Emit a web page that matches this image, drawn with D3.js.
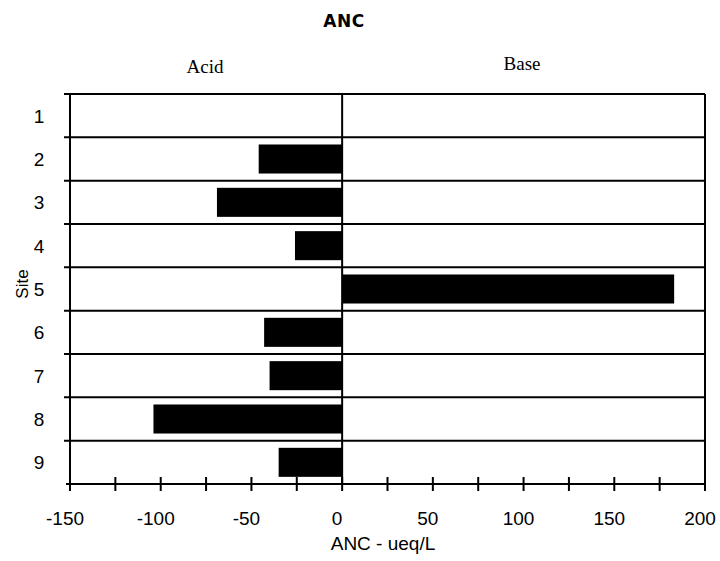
<!DOCTYPE html>
<html>
<head>
<meta charset="utf-8">
<script src="https://cdn.jsdelivr.net/npm/d3@7"></script>
<style>
body { margin: 0; background: #fff; }
text { font-family: "Liberation Sans", Arial, sans-serif; }
</style>
</head>
<body>
<div id="chart"></div>
<script>
// values
var sites = ["1", "2", "3", "4", "5", "6", "7", "8", "9"];
var anc = [0, -46, -69, -26, 183, -43, -40, -104, -35];
var xTicks = [-150, -100, -50, 0, 50, 100, 150, 200];
var minorTicks = [-150, -125, -100, -75, -50, -25, 0, 25, 50, 75, 100, 125, 150, 175, 200];

var W = 720, H = 561;
var margin = {top: 94, right: 15, bottom: 77, left: 70};
var width = W - margin.left - margin.right,
    height = H - margin.top - margin.bottom;

var svg = d3.select("#chart").append("svg")
    .attr("width", W)
    .attr("height", H);

var g = svg.append("g")
    .attr("transform", "translate(" + margin.left + "," + margin.top + ")");

var x = d3.scaleLinear().domain([-150, 200]).range([0, width]);
var y = d3.scaleBand().domain(sites).range([0, height]).paddingInner(0.33).paddingOuter(0.165);
var rows = d3.scaleBand().domain(sites).range([0, height]);

// row separators, poking a bit past the left border
g.selectAll(".row-line")
    .data(sites)
    .enter().append("line")
    .attr("class", "row-line")
    .attr("x1", -6)
    .attr("x2", width)
    .attr("y1", function(d) { return rows(d); })
    .attr("y2", function(d) { return rows(d); })
    .attr("stroke", "#000")
    .attr("stroke-width", 2);

// bars
g.selectAll(".bar")
    .data(anc)
    .enter().append("rect")
    .attr("class", "bar")
    .attr("x", function(d) { return x(Math.min(0, d)); })
    .attr("width", function(d) { return Math.abs(x(d) - x(0)); })
    .attr("y", function(d, i) { return y(sites[i]); })
    .attr("height", y.bandwidth())
    .attr("fill", "#000");

// left, right borders and zero line
[-150, 0, 200].forEach(function(v) {
    g.append("line")
        .attr("x1", x(v)).attr("x2", x(v))
        .attr("y1", 0).attr("y2", height)
        .attr("stroke", "#000")
        .attr("stroke-width", 2);
});

// x axis: line with ticks crossing it
var ax = g.append("g").attr("transform", "translate(0," + height + ")");
ax.append("line")
    .attr("x1", -4).attr("x2", width)
    .attr("stroke", "#000").attr("stroke-width", 2);
ax.selectAll(".tick-mark")
    .data(minorTicks)
    .enter().append("line")
    .attr("class", "tick-mark")
    .attr("x1", function(d) { return x(d); })
    .attr("x2", function(d) { return x(d); })
    .attr("y1", -7).attr("y2", 7)
    .attr("stroke", "#000").attr("stroke-width", 2);
ax.selectAll(".tick-label")
    .data(xTicks)
    .enter().append("text")
    .attr("class", "tick-label")
    .attr("x", function(d) { return x(d) - 5; })
    .attr("y", 41)
    .attr("text-anchor", "middle")
    .attr("font-size", 19)
    .text(function(d) { return d; });

// site labels
g.selectAll(".site-label")
    .data(sites)
    .enter().append("text")
    .attr("class", "site-label")
    .attr("x", -31)
    .attr("y", function(d) { return rows(d) + rows.bandwidth() / 2 + 7; })
    .attr("text-anchor", "middle")
    .attr("font-size", 19)
    .text(function(d) { return d; });

// titles
svg.append("text")
    .attr("x", 344).attr("y", 27)
    .attr("text-anchor", "middle")
    .attr("font-size", 17)
    .attr("font-weight", "bold")
    .attr("letter-spacing", 0.5)
    .style("font-family", "'DejaVu Sans', sans-serif")
    .text("ANC");

svg.append("text")
    .attr("x", 205).attr("y", 73)
    .attr("text-anchor", "middle")
    .attr("font-size", 19)
    .style("font-family", "'Liberation Serif', 'Times New Roman', serif")
    .text("Acid");

svg.append("text")
    .attr("x", 522).attr("y", 70)
    .attr("text-anchor", "middle")
    .attr("font-size", 19)
    .style("font-family", "'Liberation Serif', 'Times New Roman', serif")
    .text("Base");

svg.append("text")
    .attr("x", 383).attr("y", 550)
    .attr("text-anchor", "middle")
    .attr("font-size", 19)
    .text("ANC - ueq/L");

svg.append("text")
    .attr("transform", "translate(28,284) rotate(-90)")
    .attr("text-anchor", "middle")
    .attr("font-size", 17)
    .text("Site");
</script>
</body>
</html>
